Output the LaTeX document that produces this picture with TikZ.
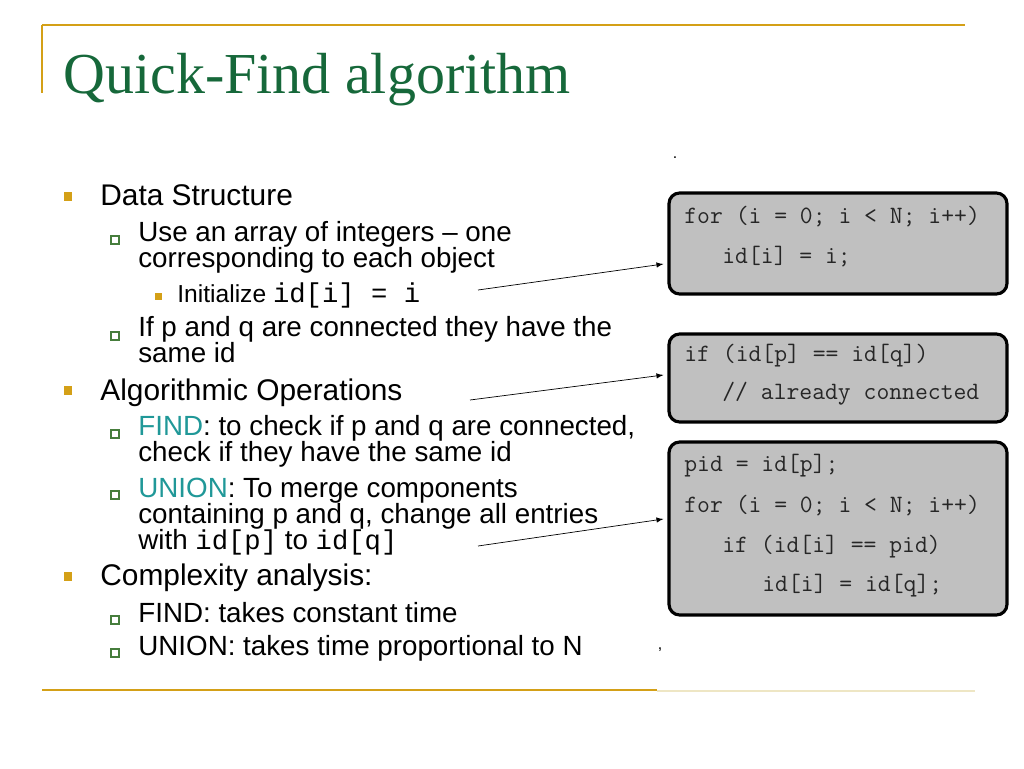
\documentclass[tikz,border=0pt]{standalone}
\usepackage{fontspec}
\setmainfont{Liberation Serif}
\setsansfont{Liberation Sans}
\setmonofont{Liberation Mono}
\newfontfamily\codefont{Latin Modern Mono}
\usetikzlibrary{calc}

\definecolor{slidegold}{RGB}{212,160,23}
\definecolor{palegold}{RGB}{238,230,196}
\definecolor{titlegreen}{RGB}{22,104,58}
\definecolor{keyteal}{RGB}{32,152,152}
\definecolor{boxgray}{RGB}{192,192,192}
\definecolor{bulletgreen}{RGB}{70,125,60}

\newcommand{\tightlines}{\lineskiplimit=-20pt\relax}
\tikzset{
  lvlone/.style={anchor=base west, inner sep=0pt, font=\sffamily\fontsize{17}{17}\selectfont},
  lvltwo/.style={anchor=base west, inner sep=0pt, align=left, font=\sffamily\fontsize{15.8}{14.6}\selectfont\tightlines},
  lvlthree/.style={anchor=base west, inner sep=0pt, font=\sffamily\fontsize{14}{14}\selectfont},
  dotone/.style={fill=slidegold, inner sep=0pt, minimum size=0.18cm},
  dottwo/.style={draw=bulletgreen, fill=white, line width=0.7pt, inner sep=0pt, minimum size=0.16cm},
  dotthree/.style={fill=slidegold, inner sep=0pt, minimum size=0.14cm},
  codebox/.style={draw=black, fill=boxgray, line width=1.8pt, rounded corners=6pt, inner sep=0pt, minimum width=6.76cm},
  codeline/.style={anchor=base west, inner sep=0pt, text=black!85, font=\codefont\fontsize{14.2}{14.2}\selectfont},
  pointer/.style={-latex, thin}
}
\newcommand{\cd}[1]{{\ttfamily\fontsize{15.5}{14.6}\selectfont #1}}

\begin{document}
\begin{tikzpicture}[x=0.02cm, y=-0.02cm]
                \useasboundingbox (0,0) rectangle (1024,768);
                % frame lines
                \draw [slidegold, line width=1.3pt] (42,25) -- (965,25);
                \draw [slidegold, line width=0.9pt] (42,25) -- (42,93);
                \draw [slidegold, line width=1.4pt] (42,690) -- (657,690);
                \draw [palegold, line width=0.6pt] (657,691) -- (975,691);
                \node [anchor=base west, inner sep=0pt, text=titlegreen, font=\fontsize{33}{33}\selectfont] (title) at (63,93) {Quick-Find algorithm};
                % bullets (multi-line texts sit on their last baseline)
                \node [dotone] (b1) at (68,196) {};
                \node [lvlone] (data) at (100,205) {Data Structure};
                \node [dottwo] (b2) at (115,240) {};
                \node [lvltwo] (use) at (138,267) {Use an array of integers -- one\\corresponding to each object};
                \node [dotthree] (b3) at (158,296) {};
                \node [lvlthree] (init) at (177,302) {Initialize \cd{id[i] = i}};
                \node [dottwo] (b4) at (115,336) {};
                \node [lvltwo] (same) at (138,362) {If p and q are connected they have the\\same id};
                \node [dotone] (b5) at (68,390) {};
                \node [lvlone] (algo) at (100,400) {Algorithmic Operations};
                \node [dottwo] (b6) at (115,434) {};
                \node [lvltwo] (find) at (138,461) {\textcolor{keyteal}{FIND}: to check if p and q are connected,\\check if they have the same id};
                \node [dottwo] (b7) at (115,495) {};
                \node [lvltwo] (union) at (138,549) {\textcolor{keyteal}{UNION}: To merge components\\containing p and q, change all entries\\with \cd{id[p]} to \cd{id[q]}};
                \node [dotone] (b8) at (68,576) {};
                \node [lvlone] (cplx) at (100,585) {Complexity analysis:};
                \node [dottwo] (b9) at (115,620) {};
                \node [lvltwo] (fcost) at (138,622) {FIND: takes constant time};
                \node [dottwo] (b10) at (115,653) {};
                \node [lvltwo] (ucost) at (138,655) {UNION: takes time proportional to N};
                \node [inner sep=0pt, font=\sffamily\small] (dot) at (675,158) {.};
                \node [inner sep=0pt, font=\sffamily\small] (comma) at (660,650) {,};
                % code boxes
                \node [codebox, minimum height=2.02cm] (initbox) at (838,243.5) {};
                \node [codeline] at (684,223) {for (i = 0; i < N; i++)};
                \node [codeline] at (722,263) {id[i] = i;};
                \node [codebox, minimum height=1.76cm] (findbox) at (838,378) {};
                \node [codeline] at (684,361) {if (id[p] == id[q])};
                \node [codeline] at (722,399) {// already connected};
                \node [codebox, minimum height=3.46cm] (unionbox) at (838,528.5) {};
                \node [codeline] at (684,471) {pid = id[p];};
                \node [codeline] at (684,512) {for (i = 0; i < N; i++)};
                \node [codeline] at (722,552) {if (id[i] == pid)};
                \node [codeline] at (762,591) {id[i] = id[q];};
                % pointers
                \coordinate (p1) at (478,290);
                \coordinate (p2) at (470,400);
                \coordinate (p3) at (478,546);
                \draw [pointer] (p1) -- ($(initbox.west)+(-4,20.5)$);
                \draw [pointer] (p2) -- ($(findbox.west)+(-4,-3)$);
                \draw [pointer] (p3) -- ($(unionbox.west)+(-4,-9.5)$);
\end{tikzpicture}
\end{document}
